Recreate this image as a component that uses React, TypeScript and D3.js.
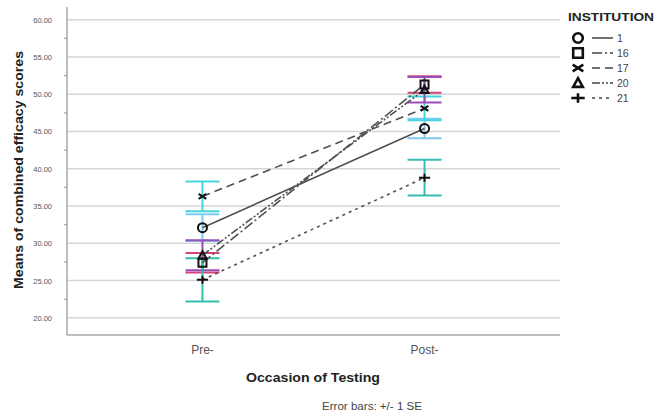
import { useEffect, useRef } from 'react';
import * as d3 from 'd3';

// Mittelwerte und Standardfehler je Institution
const occasions = ['Pre-', 'Post-'];
const institutions = ['1', '16', '17', '20', '21'];
const preMeans = [32.1, 27.4, 36.3, 28.4, 25.1];
const postMeans = [45.4, 51.3, 48.1, 50.6, 38.8];
const preSE = [1.8, 1.3, 2.0, 2.0, 2.9];
const postSE = [1.3, 1.1, 1.6, 1.7, 2.4];
const yTicks = [20, 25, 30, 35, 40, 45, 50, 55, 60];

const barColors = ['#7ccaf2', '#d6457a', '#45d3dc', '#9a4fb8', '#36bdb2'];
const lineDash = ['', '10,3,2,3', '8,5', '8,2,2,2,2,2', '3,4'];

const W = 657;
const H = 418;

// Marker als Pfad, s = halbe Größe
const markerPath = (i: number, s: number): string => {
    if (i === 0) return d3.symbol(d3.symbolCircle, Math.PI * s * s)()!;
    if (i === 1) return `M${-s},${-s}H${s}V${s}H${-s}Z`;
    if (i === 2) return `M${-s * 1.1},${-s * 0.7}L${s * 1.1},${s * 0.7}M${-s * 1.1},${s * 0.7}L${s * 1.1},${-s * 0.7}`;
    if (i === 3) return `M0,${-s}L${s},${s * 0.8}H${-s}Z`;
    return `M${-s * 1.4},0H${s * 1.4}M0,${-s}V${s}`;
};

const App: React.FC = () => {
    const ref = useRef<SVGSVGElement>(null);

    useEffect(() => {
        const svg = d3.select(ref.current);
        svg.selectAll('*').remove();
        const font = 'Liberation Sans, Arial, sans-serif';

        const x = d3.scalePoint<string>().domain(occasions).range([67, 560]).padding(0.61);
        const y = d3.scaleLinear().domain([17.7, 61.7]).range([335, 7]);

        // Gitterlinien
        svg.append('g').selectAll('line').data(yTicks).enter().append('line')
            .attr('x1', 67).attr('x2', 560)
            .attr('y1', d => y(d)).attr('y2', d => y(d))
            .attr('stroke', '#d6d6d6').attr('stroke-width', 1.5);

        // Achsen
        svg.append('line').attr('x1', 67).attr('x2', 67).attr('y1', 7).attr('y2', 335)
            .attr('stroke', '#a8a8a8').attr('stroke-width', 1.5);
        svg.append('line').attr('x1', 67).attr('x2', 560).attr('y1', 335).attr('y2', 335)
            .attr('stroke', '#a8a8a8').attr('stroke-width', 1.5);

        // Kleine Zwischenstriche
        svg.append('g').selectAll('line').data(yTicks.slice(0, -1).map(d => d + 2.5)).enter().append('line')
            .attr('x1', 64).attr('x2', 67)
            .attr('y1', d => y(d)).attr('y2', d => y(d))
            .attr('stroke', '#999');

        svg.append('g').selectAll('text').data(yTicks).enter().append('text')
            .attr('x', 52).attr('y', d => y(d) + 3)
            .attr('text-anchor', 'end').attr('font-family', font).attr('font-size', 7.5)
            .attr('fill', '#555').text(d => d.toFixed(2));

        svg.append('g').selectAll('text').data(occasions).enter().append('text')
            .attr('x', d => x(d)!).attr('y', 354)
            .attr('text-anchor', 'middle').attr('font-family', font).attr('font-size', 12)
            .attr('fill', '#555').text(d => d);

        svg.append('text').attr('x', 313).attr('y', 382).attr('text-anchor', 'middle')
            .attr('font-family', font).attr('font-size', 13).attr('font-weight', 'bold')
            .attr('textLength', 134).attr('lengthAdjust', 'spacingAndGlyphs')
            .attr('fill', '#222').text('Occasion of Testing');
        svg.append('text').attr('x', 372).attr('y', 410).attr('text-anchor', 'middle')
            .attr('font-family', font).attr('font-size', 10)
            .attr('textLength', 100).attr('lengthAdjust', 'spacingAndGlyphs')
            .attr('fill', '#444').text('Error bars: +/- 1 SE');
        svg.append('text').attr('transform', 'translate(23,170) rotate(-90)').attr('text-anchor', 'middle')
            .attr('font-family', font).attr('font-size', 12.5).attr('font-weight', 'bold')
            .attr('textLength', 238).attr('lengthAdjust', 'spacingAndGlyphs')
            .attr('fill', '#222').text('Means of combined efficacy scores');

        const rows = institutions.map((name, i) => ({
            name, i,
            pts: [
                { occ: occasions[0], m: preMeans[i], se: preSE[i] },
                { occ: occasions[1], m: postMeans[i], se: postSE[i] },
            ],
        }));

        // Fehlerbalken
        const eb = svg.append('g');
        rows.forEach(r => r.pts.forEach(p => {
            const cx = x(p.occ)!;
            const g = eb.append('g').attr('stroke', barColors[r.i]).attr('stroke-width', 2);
            g.append('line').attr('x1', cx).attr('x2', cx).attr('y1', y(p.m - p.se)).attr('y2', y(p.m + p.se));
            [p.m - p.se, p.m + p.se].forEach(v => {
                g.append('line').attr('x1', cx - 17).attr('x2', cx + 17).attr('y1', y(v)).attr('y2', y(v));
            });
        }));

        // Linien
        const line = d3.line<{ occ: string; m: number }>().x(d => x(d.occ)!).y(d => y(d.m));
        svg.append('g').selectAll('path').data(rows).enter().append('path')
            .attr('d', d => line(d.pts))
            .attr('fill', 'none').attr('stroke', '#505050').attr('stroke-width', 1.6)
            .attr('stroke-dasharray', d => lineDash[d.i]);

        // Marker
        const sizes = [4.5, 4, 3.5, 4, 4];
        rows.forEach(r => r.pts.forEach(p => {
            svg.append('path')
                .attr('d', markerPath(r.i, sizes[r.i]))
                .attr('transform', `translate(${x(p.occ)},${y(p.m)})`)
                .attr('fill', 'none').attr('stroke', '#111').attr('stroke-width', 2);
        }));

        // Legende
        svg.append('text').attr('x', 568).attr('y', 21).attr('font-family', font)
            .attr('font-size', 11.5).attr('font-weight', 'bold')
            .attr('textLength', 86).attr('lengthAdjust', 'spacingAndGlyphs')
            .attr('fill', '#222').text('INSTITUTION');
        const leg = svg.append('g').selectAll('g').data(rows).enter().append('g')
            .attr('transform', d => `translate(0,${38 + d.i * 15})`);
        leg.append('path')
            .attr('d', d => markerPath(d.i, 4.8))
            .attr('transform', 'translate(578,0)')
            .attr('fill', 'none').attr('stroke', '#111').attr('stroke-width', 2.6);
        leg.append('line').attr('x1', 592).attr('x2', 613).attr('y1', 0).attr('y2', 0)
            .attr('stroke', '#444').attr('stroke-width', 1.5)
            .attr('stroke-dasharray', d => lineDash[d.i]);
        leg.append('text').attr('x', 617).attr('y', 4).attr('font-family', font)
            .attr('font-size', 10.5).attr('fill', '#444').text(d => d.name);
    }, []);

    return (
        <svg ref={ref} width={W} height={H}
            style={{ position: 'absolute', left: 0, top: 0, display: 'block' }} />
    );
};

export default App;
